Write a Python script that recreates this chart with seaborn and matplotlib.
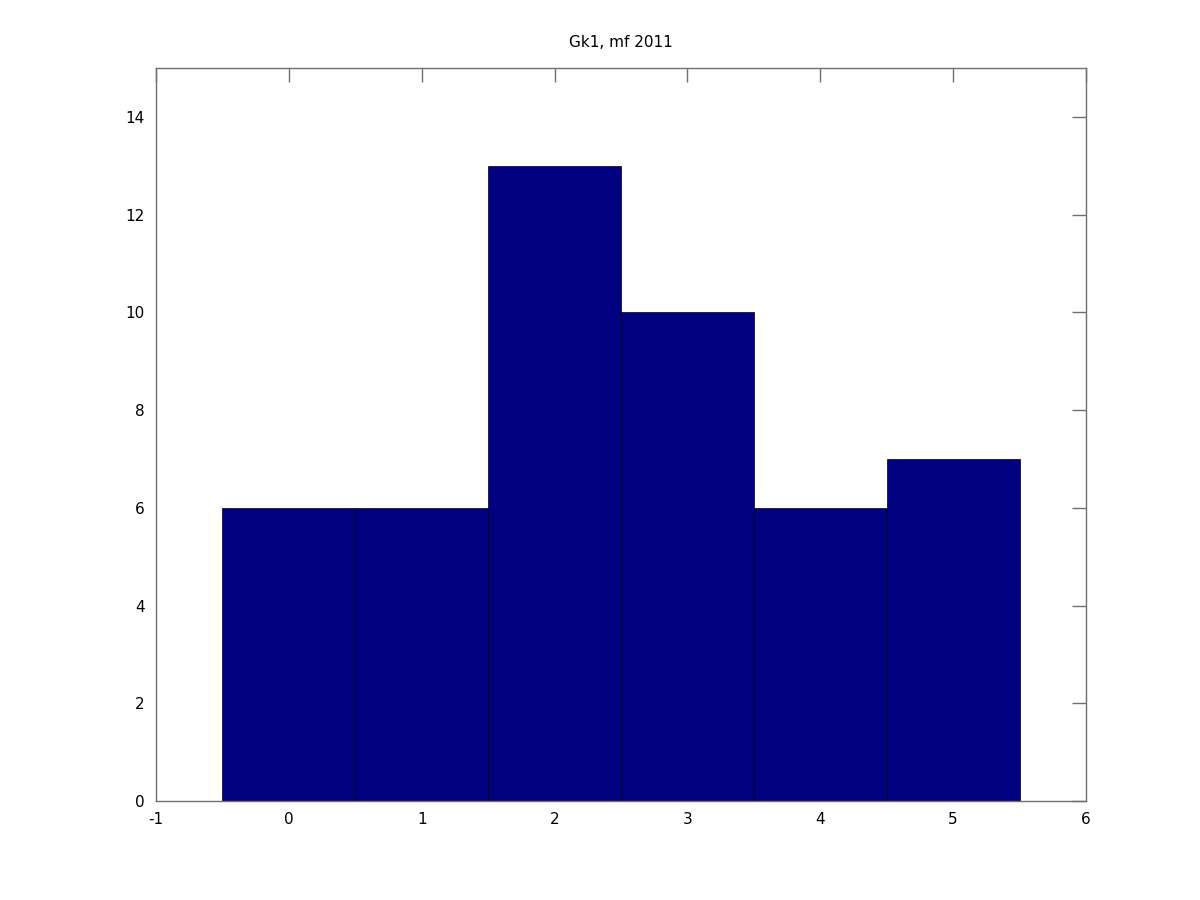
import numpy as np
import pandas as pd
import seaborn as sns
import matplotlib
matplotlib.use('Agg')
import matplotlib.pyplot as plt

# histogram bins (centres) and counts
bins = [0, 1, 2, 3, 4, 5]
counts = [6, 6, 13, 10, 6, 7]
title = 'Gk1, mf 2011'

df = pd.DataFrame({'bin': bins, 'count': counts})

sns.set_style('white')
plt.rcParams['font.family'] = ['DejaVu Sans']
plt.rcParams['axes.unicode_minus'] = False
plt.rcParams['text.color'] = 'black'
plt.rcParams['xtick.labelcolor'] = 'black'
plt.rcParams['ytick.labelcolor'] = 'black'

fig = plt.figure(figsize=(12, 9), dpi=100)
ax = fig.add_axes([0.13, 0.11, 0.775, 0.8144])

sns.histplot(data=df, x='bin', weights='count', discrete=True,
             color='#000080', edgecolor='black', linewidth=0.5, alpha=1, ax=ax)

ax.set_xlim(-1, 6)
ax.set_ylim(0, 15)
ax.set_xticks(range(-1, 7))
ax.set_yticks(range(0, 15, 2))
ax.set_xlabel('')
ax.set_ylabel('')
ax.set_title(title, fontsize=11, pad=15, color='black')

for sp in ax.spines.values():
    sp.set_color('#707070')
    sp.set_linewidth(1)
ax.tick_params(direction='in', length=10, width=1, color='#707070',
               labelcolor='black', top=True, right=True, labelsize=11, pad=8)

fig.savefig('out.png', dpi=100)
